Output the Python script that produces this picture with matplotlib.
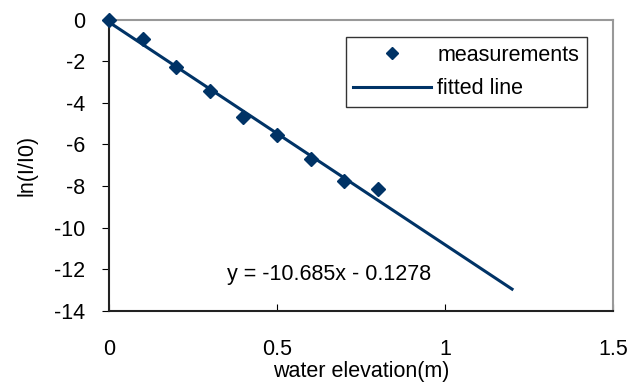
import numpy as np
import matplotlib.pyplot as plt

plt.rcParams['font.family'] = ['Liberation Sans', 'DejaVu Sans']
plt.rcParams['axes.unicode_minus'] = False

# measured data
elevation = [0.0, 0.1, 0.2, 0.3, 0.4, 0.5, 0.6, 0.7, 0.8]
ln_ratio = [0.0, -0.94, -2.30, -3.42, -4.67, -5.55, -6.70, -7.76, -8.12]

# linear fit shown in chart
slope = -10.685
intercept = -0.1278
fit_range = [0.0, 1.2]

navy = '#003366'
fs = 15.5

fig = plt.figure(figsize=(6.39, 3.9), dpi=100)
ax = fig.add_axes([0.1706, 0.2026, 0.7884, 0.7474])

fx = np.array(fit_range)
ax.plot(fx, slope * fx + intercept, color=navy, lw=2.2, label='fitted line', zorder=2)
ax.plot(elevation, ln_ratio, 'D', color=navy, ms=7.5, label='measurements',
        linestyle='none', zorder=3, clip_on=False)

ax.set_xlim(0, 1.5)
ax.set_ylim(-14, 0)
ax.set_xticks([0, 0.5, 1, 1.5])
ax.set_xticklabels(['0', '0.5', '1', '1.5'])
ax.set_yticks(range(-14, 1, 2))

ax.tick_params(axis='x', direction='in', length=5, pad=20, labelsize=fs)
ax.tick_params(axis='y', direction='out', length=5, pad=12, labelsize=fs)

for s in ['top', 'right']:
    ax.spines[s].set_color('#999999')
    ax.spines[s].set_linewidth(1.5)
for s in ['left', 'bottom']:
    ax.spines[s].set_color('#222222')
    ax.spines[s].set_linewidth(1.5)

ax.set_xlabel('water elevation(m)', fontsize=fs, labelpad=1)
ax.set_ylabel('ln(I/I0)', fontsize=fs, labelpad=12)

ax.text(0.655, -12.27, 'y = -10.685x - 0.1278', fontsize=fs, ha='center', va='center')

h, l = ax.get_legend_handles_labels()
leg = ax.legend(h[::-1], l[::-1], loc='upper right', bbox_to_anchor=(0.948, 0.94),
                fontsize=fs, frameon=True, fancybox=False, handlelength=3.6,
                handletextpad=0.3, borderpad=0.35, labelspacing=0.6, markerscale=0.75,
                borderaxespad=0)
leg.get_frame().set_edgecolor('black')
leg.get_frame().set_linewidth(1.0)

fig.savefig('out.png', dpi=100)
